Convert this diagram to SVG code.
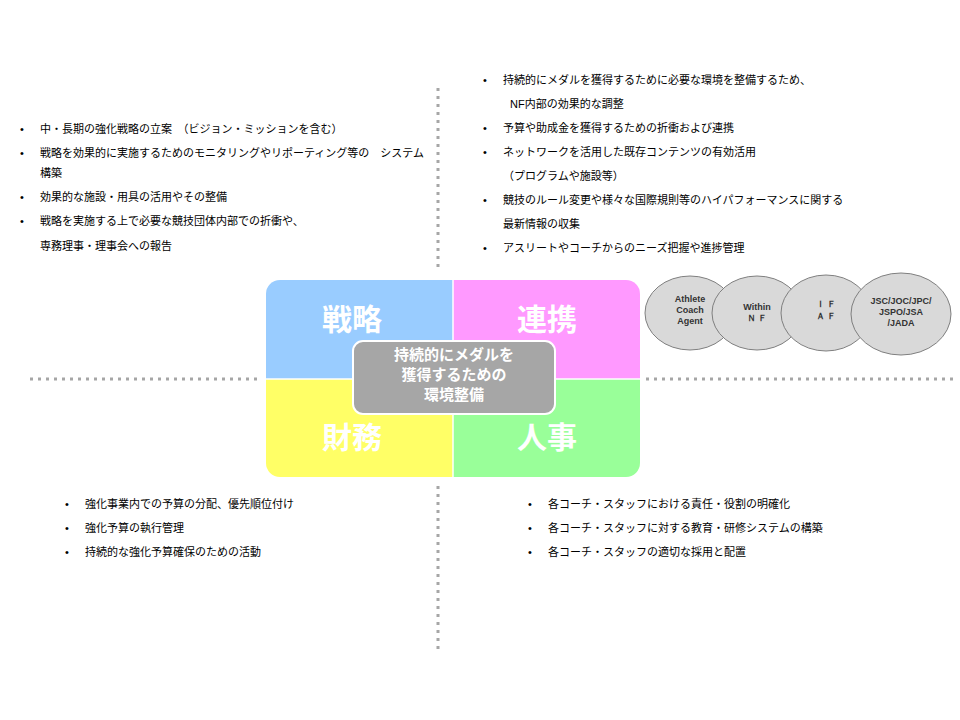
<svg xmlns="http://www.w3.org/2000/svg" width="960" height="720" viewBox="0 0 960 720">
<style>
.t{font-family:"Liberation Sans","Noto Sans CJK JP",sans-serif;font-size:11px;fill:#000}
.q{font-family:"Noto Sans CJK JP",sans-serif;font-size:30px;font-weight:bold;fill:#fff;text-anchor:middle}
.c{font-family:"Noto Sans CJK JP",sans-serif;font-size:15px;font-weight:bold;fill:#fff;text-anchor:middle}
.e{fill:#d9d9d9;stroke:#7f7f7f;stroke-width:1}
.el{font-family:"Liberation Sans",sans-serif;font-size:9px;font-weight:bold;fill:#333;text-anchor:middle}
.d{stroke:#a6a6a6;stroke-width:3;stroke-dasharray:3 5;fill:none}
</style>
<rect width="960" height="720" fill="#fff"/>
<g id="connectors">
<line class="d" x1="438" y1="88" x2="438" y2="272"/>
<line class="d" x1="438" y1="486" x2="438" y2="652"/>
<line class="d" x1="30" y1="379" x2="262" y2="379"/>
<line class="d" x1="646" y1="379" x2="955" y2="379"/>
</g>
<g id="quadrants">
<clipPath id="cp"><rect x="266" y="280" width="374" height="197" rx="14"/></clipPath>
<g clip-path="url(#cp)">
<rect x="266" y="280" width="187" height="99" fill="#99ccff"/>
<rect x="453" y="280" width="187" height="99" fill="#ff99ff"/>
<rect x="266" y="379" width="187" height="98" fill="#ffff66"/>
<rect x="453" y="379" width="187" height="98" fill="#99ff99"/>
</g>
<line x1="453" y1="280" x2="453" y2="477" stroke="#fff" stroke-width="1.5"/>
<line x1="266" y1="379" x2="640" y2="379" stroke="#fff" stroke-width="1.5"/>
<text class="q" x="352" y="330">戦略</text>
<text class="q" x="547" y="330">連携</text>
<text class="q" x="352" y="448">財務</text>
<text class="q" x="547" y="448">人事</text>
</g>
<g id="center">
<rect x="353" y="341" width="202" height="73" rx="10" fill="#a6a6a6" stroke="#fff" stroke-width="2"/>
<text class="c" x="454" y="360">持続的にメダルを</text>
<text class="c" x="454" y="380">獲得するための</text>
<text class="c" x="454" y="400">環境整備</text>
</g>
<g id="ellipses">
<ellipse class="e" cx="690" cy="313" rx="45" ry="37"/>
<ellipse class="e" cx="757" cy="313" rx="45" ry="37"/>
<ellipse class="e" cx="826" cy="313" rx="45" ry="38"/>
<ellipse class="e" cx="901" cy="314" rx="50" ry="41"/>
<text class="el" x="690" y="302">Athlete</text><text class="el" x="690" y="313">Coach</text><text class="el" x="690" y="324">Agent</text>
<text class="el" x="757" y="310">Within</text><text class="el" x="757" y="321">Ｎ Ｆ</text>
<text class="el" x="826" y="307">Ｉ Ｆ</text><text class="el" x="826" y="319">Ａ Ｆ</text>
<text class="el" x="901" y="304">JSC/JOC/JPC/</text><text class="el" x="901" y="315">JSPO/JSA</text><text class="el" x="901" y="326">/JADA</text>
</g>
<g id="text-strategy" class="t">
<text x="20" y="133">•</text><text x="40" y="133">中・長期の強化戦略の立案　（ビジョン・ミッションを含む）</text>
<text x="20" y="157">•</text><text x="40" y="157">戦略を効果的に実施するためのモニタリングやリポーティング等の　システム</text>
<text x="40" y="177">構築</text>
<text x="20" y="201">•</text><text x="40" y="201">効果的な施設・用具の活用やその整備</text>
<text x="20" y="225">•</text><text x="40" y="225">戦略を実施する上で必要な競技団体内部での折衝や、</text>
<text x="40" y="250">専務理事・理事会への報告</text>
</g>
<g id="text-collab" class="t">
<text x="483" y="84">•</text><text x="503" y="84">持続的にメダルを獲得するために必要な環境を整備するため、</text>
<text x="510" y="108">NF内部の効果的な調整</text>
<text x="483" y="132">•</text><text x="503" y="132">予算や助成金を獲得するための折衝および連携</text>
<text x="483" y="156">•</text><text x="503" y="156">ネットワークを活用した既存コンテンツの有効活用</text>
<text x="503" y="180">（プログラムや施設等）</text>
<text x="483" y="204">•</text><text x="503" y="204">競技のルール変更や様々な国際規則等のハイパフォーマンスに関する</text>
<text x="503" y="228">最新情報の収集</text>
<text x="483" y="252">•</text><text x="503" y="252">アスリートやコーチからのニーズ把握や進捗管理</text>
</g>
<g id="text-finance" class="t">
<text x="65" y="508">•</text><text x="85" y="508">強化事業内での予算の分配、優先順位付け</text>
<text x="65" y="532">•</text><text x="85" y="532">強化予算の執行管理</text>
<text x="65" y="556">•</text><text x="85" y="556">持続的な強化予算確保のための活動</text>
</g>
<g id="text-hr" class="t">
<text x="528" y="508">•</text><text x="548" y="508">各コーチ・スタッフにおける責任・役割の明確化</text>
<text x="528" y="532">•</text><text x="548" y="532">各コーチ・スタッフに対する教育・研修システムの構築</text>
<text x="528" y="556">•</text><text x="548" y="556">各コーチ・スタッフの適切な採用と配置</text>
</g>
</svg>
